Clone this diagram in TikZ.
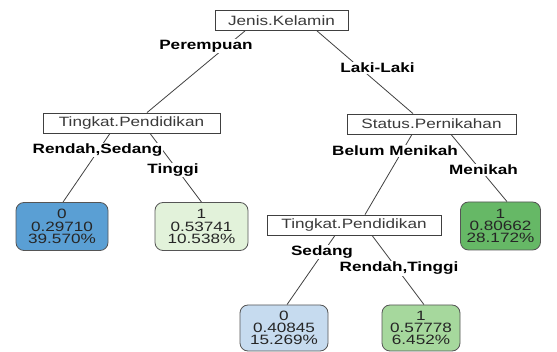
\documentclass[tikz,border=0pt]{standalone}
\usepackage{fontspec}
\setmainfont{Liberation Sans}[FakeStretch=1.27]
\usetikzlibrary{backgrounds}
\definecolor{splitbd}{HTML}{404040}
\definecolor{splittx}{HTML}{3A3A3A}
\definecolor{leafbd}{HTML}{555555}
\definecolor{leaftx}{HTML}{262626}
\definecolor{blueA}{HTML}{5A9FD4}
\definecolor{blueD}{HTML}{C6DBEF}
\definecolor{greenB}{HTML}{E2F2DA}
\definecolor{greenE}{HTML}{A6D89D}
\definecolor{greenC}{HTML}{66B866}
\tikzset{
  splitbox/.style={draw=splitbd, line width=0.8pt, fill=white, text=splittx, inner sep=0pt,
    minimum height=20pt, font=\fontsize{13.5}{12.5}\selectfont},
  leafbox/.style={draw=leafbd, line width=0.8pt, rounded corners=8pt, text=leaftx, inner sep=0pt,
    align=center, minimum height=48pt, font=\fontsize{13.5}{12.3}\selectfont},
  edgelab/.style={fill=white, inner sep=1pt, text=black, font=\fontsize{13.5}{12.5}\selectfont\bfseries},
  branch/.style={draw=splitbd, line width=0.8pt}
}
\begin{document}
\begin{tikzpicture}[x=1pt,y=-1pt]
\useasboundingbox (0,0) rectangle (557,352);
% split nodes
\node[splitbox, minimum width=133pt] (root) at (281.5,20.5) {Jenis.Kelamin};
\node[splitbox, minimum width=177pt] (tpa) at (131.5,123) {Tingkat.Pendidikan};
\node[splitbox, minimum width=169pt] (stat) at (431.5,124) {Status.Pernikahan};
\node[splitbox, minimum width=174pt] (tpb) at (354,225) {Tingkat.Pendidikan};
% leaves
\node[leafbox, fill=blueA, minimum width=92pt] (leafa) at (62,226.5) {0\\0.29710\\39.570\%};
\node[leafbox, fill=greenB, minimum width=93pt] (leafb) at (201.5,226.5) {1\\0.53741\\10.538\%};
\node[leafbox, fill=greenC, minimum width=80pt] (leafc) at (500.5,226) {1\\0.80662\\28.172\%};
\node[leafbox, fill=blueD, minimum width=88pt, minimum height=46pt] (leafd) at (284,328) {0\\0.40845\\15.269\%};
\node[leafbox, fill=greenE, minimum width=78pt, minimum height=46pt] (leafe) at (421,328) {1\\0.57778\\6.452\%};
% branch labels
\node[edgelab] (lperem) at (206,46) {Perempuan};
\node[edgelab] (llaki) at (377.5,68) {Laki-Laki};
\node[edgelab] (lrs) at (97.5,150) {Rendah,Sedang};
\node[edgelab] (ltinggi) at (173,170) {Tinggi};
\node[edgelab] (lbelum) at (395,151) {Belum Menikah};
\node[edgelab] (lmenikah) at (483.5,170) {Menikah};
\node[edgelab] (lsedang) at (322,252) {Sedang};
\node[edgelab] (lrt) at (399,268.5) {Rendah,Tinggi};
% branches
\begin{scope}[on background layer]
\draw[branch] ([xshift=-36.5pt]root.south) -- ([xshift=15.5pt]tpa.north);
\draw[branch] ([xshift=35.5pt]root.south) -- ([xshift=-18.5pt]stat.north);
\draw[branch] ([xshift=-21.5pt]tpa.south) -- ([xshift=1pt]leafa.north);
\draw[branch] ([xshift=18.5pt]tpa.south) -- ([xshift=0pt]leafb.north);
\draw[branch] ([xshift=-19.5pt]stat.south) -- ([xshift=11pt]tpb.north);
\draw[branch] ([xshift=19.5pt]stat.south) -- ([xshift=6.5pt]leafc.north);
\draw[branch] ([xshift=-19pt]tpb.south) -- ([xshift=3pt]leafd.north);
\draw[branch] ([xshift=18pt]tpb.south) -- ([xshift=3pt]leafe.north);
\end{scope}
\end{tikzpicture}
\end{document}
